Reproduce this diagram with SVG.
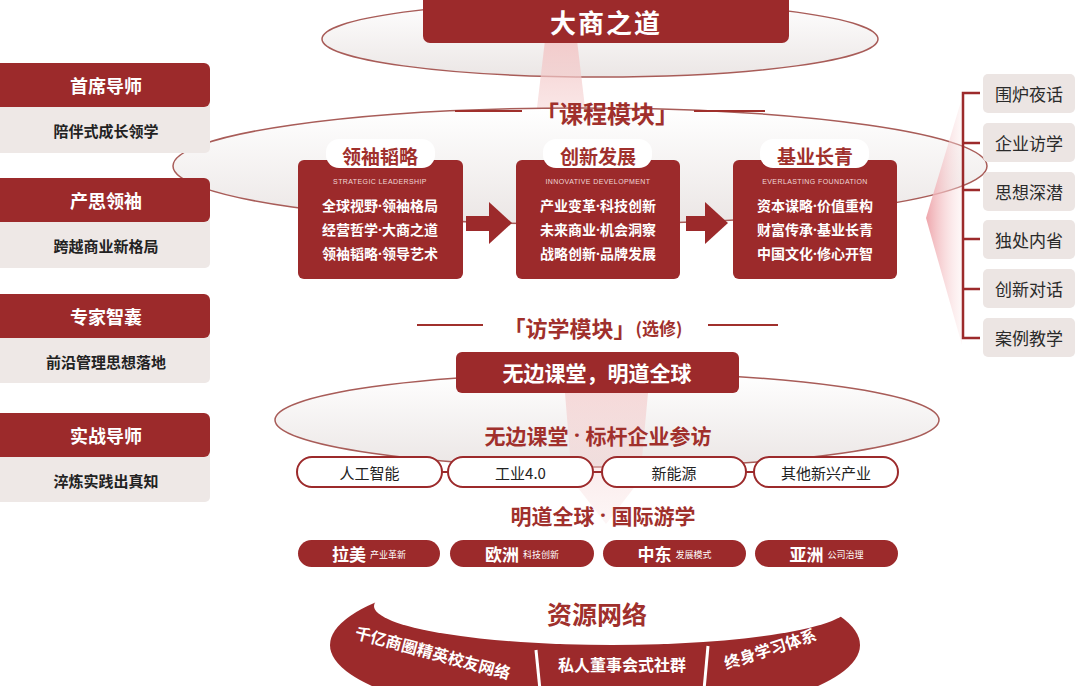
<svg xmlns="http://www.w3.org/2000/svg" width="1080" height="686" viewBox="0 0 1080 686">
<defs>
<linearGradient id="ellFill" x1="0" y1="0" x2="0" y2="1">
<stop offset="0" stop-color="#ffffff"/>
<stop offset="1" stop-color="#ebe6e5"/>
</linearGradient>
<linearGradient id="beam" x1="0" y1="0" x2="0" y2="1">
<stop offset="0" stop-color="#f2c4c4" stop-opacity="0.85"/>
<stop offset="1" stop-color="#f7d9d9" stop-opacity="0.35"/>
</linearGradient>
<linearGradient id="cone" x1="0" y1="0" x2="1" y2="0">
<stop offset="0" stop-color="#eea6ac"/>
<stop offset="1" stop-color="#fbe6e6" stop-opacity="0.3"/>
</linearGradient>
<style>
.red{fill:#9c2a2b}
.sub{fill:#eee8e6}
.ell{fill:url(#ellFill);stroke:#a85c58;stroke-width:1.5}
.t{font-family:"Noto Sans CJK SC","Noto Sans",sans-serif;text-anchor:middle;dominant-baseline:central}
.w{fill:#ffffff;font-weight:700}
.k{fill:#222222;font-weight:700}
.rt{fill:#a0302c;font-weight:700}
.dot{font-family:"Noto Sans","DejaVu Sans",sans-serif}
.en{font-family:"Liberation Sans",Arial,sans-serif;font-size:7px;fill:#f1d6d6;text-anchor:middle;dominant-baseline:central;letter-spacing:0.4px}
.ln{stroke:#a0302c;stroke-width:2;fill:none}
.pill{fill:#ffffff;stroke:#9c2a2b;stroke-width:2}
.rbox{fill:#ece5e3}
</style>
</defs>
<rect width="1080" height="686" fill="#ffffff"/>

<!-- decorative background -->
<g id="decor">
<ellipse class="ell" cx="600" cy="39" rx="278" ry="38"/>
<polygon points="545,40 577,40 590,150 532,150" fill="url(#beam)"/>
<ellipse class="ell" cx="580" cy="166" rx="407" ry="58"/>
<polygon points="926,218 962,98 962,345" fill="url(#cone)"/>
<ellipse class="ell" cx="607" cy="420" rx="332" ry="47"/>
<polygon points="565,393 648,393 640,480 606,524 572,480" fill="url(#beam)" opacity="0.7"/>
</g>

<!-- title -->
<g id="title">
<rect class="red" x="423" y="-10" width="366" height="53" rx="7"/>
<text class="t w" x="606" y="21" font-size="26" letter-spacing="2">大商之道</text>
</g>

<!-- section heading 1 -->
<g id="heading-course">
<line class="ln" x1="455" y1="111" x2="522" y2="111"/>
<line class="ln" x1="694" y1="111" x2="765" y2="111"/>
<text class="t rt" x="607" y="112" font-size="24">「课程模块」</text>
</g>

<!-- left column -->
<g id="left-1">
<rect class="sub" x="-10" y="100" width="220" height="53" rx="5"/>
<rect class="red" x="-10" y="63" width="220" height="44" rx="6"/>
<text class="t w" x="106" y="85" font-size="18">首席导师</text>
<text class="t k" x="106" y="130" font-size="15">陪伴式成长领学</text>
</g>
<g id="left-2">
<rect class="sub" x="-10" y="215" width="220" height="53" rx="5"/>
<rect class="red" x="-10" y="178" width="220" height="44" rx="6"/>
<text class="t w" x="106" y="200" font-size="18">产思领袖</text>
<text class="t k" x="106" y="245" font-size="15">跨越商业新格局</text>
</g>
<g id="left-3">
<rect class="sub" x="-10" y="331" width="220" height="52" rx="5"/>
<rect class="red" x="-10" y="294" width="220" height="44" rx="6"/>
<text class="t w" x="106" y="316" font-size="18">专家智囊</text>
<text class="t k" x="106" y="361" font-size="15">前沿管理思想落地</text>
</g>
<g id="left-4">
<rect class="sub" x="-10" y="450" width="220" height="52" rx="5"/>
<rect class="red" x="-10" y="413" width="220" height="44" rx="6"/>
<text class="t w" x="106" y="435" font-size="18">实战导师</text>
<text class="t k" x="106" y="480" font-size="15">淬炼实践出真知</text>
</g>

<!-- connectors -->
<g id="connectors">
<rect class="red" x="466" y="216" width="26" height="15"/>
<polygon class="red" points="489,202 512,223 489,244"/>
<rect class="red" x="686" y="216" width="22" height="15"/>
<polygon class="red" points="705,202 728,223 705,244"/>
<path d="M980,93 H963 V338 H980 M963,143 H980 M963,190 H980 M963,239 H980 M963,289 H980" fill="none" stroke="#9c2a2b" stroke-width="2.5"/>
<path d="M442,472 H448 M593,472 H602 M746,472 H754" stroke="#9c2a2b" stroke-width="2"/>
<line class="ln" x1="417" y1="325" x2="483" y2="325"/>
<line class="ln" x1="708" y1="325" x2="778" y2="325"/>
</g>

<!-- module cards -->
<g id="card-1">
<rect class="red" x="298" y="160" width="165" height="119" rx="6"/>
<rect x="326" y="139" width="109" height="29" rx="13" fill="#ffffff"/>
<text class="t rt" x="380" y="155" font-size="19">领袖韬略</text>
<text class="en" x="380" y="181">STRATEGIC LEADERSHIP</text>
<text class="t w" x="380" y="205" font-size="14">全球视野<tspan class="dot">·</tspan>领袖格局</text>
<text class="t w" x="380" y="229" font-size="14">经营哲学<tspan class="dot">·</tspan>大商之道</text>
<text class="t w" x="380" y="253" font-size="14">领袖韬略<tspan class="dot">·</tspan>领导艺术</text>
</g>
<g id="card-2">
<rect class="red" x="516" y="160" width="164" height="119" rx="6"/>
<rect x="543" y="139" width="109" height="29" rx="13" fill="#ffffff"/>
<text class="t rt" x="598" y="155" font-size="19">创新发展</text>
<text class="en" x="598" y="181">INNOVATIVE DEVELOPMENT</text>
<text class="t w" x="598" y="205" font-size="14">产业变革<tspan class="dot">·</tspan>科技创新</text>
<text class="t w" x="598" y="229" font-size="14">未来商业<tspan class="dot">·</tspan>机会洞察</text>
<text class="t w" x="598" y="253" font-size="14">战略创新<tspan class="dot">·</tspan>品牌发展</text>
</g>
<g id="card-3">
<rect class="red" x="733" y="160" width="164" height="119" rx="6"/>
<rect x="760" y="139" width="109" height="29" rx="13" fill="#ffffff"/>
<text class="t rt" x="815" y="155" font-size="19">基业长青</text>
<text class="en" x="815" y="181">EVERLASTING FOUNDATION</text>
<text class="t w" x="815" y="205" font-size="14">资本谋略<tspan class="dot">·</tspan>价值重构</text>
<text class="t w" x="815" y="229" font-size="14">财富传承<tspan class="dot">·</tspan>基业长青</text>
<text class="t w" x="815" y="253" font-size="14">中国文化<tspan class="dot">·</tspan>修心开智</text>
</g>

<!-- right column -->
<g id="right-1"><rect class="rbox" x="983" y="74" width="92" height="39" rx="5"/><text class="t" x="1029" y="93.5" font-size="17" fill="#2a2a2a">围炉夜话</text></g>
<g id="right-2"><rect class="rbox" x="983" y="123" width="92" height="39" rx="5"/><text class="t" x="1029" y="142.5" font-size="17" fill="#2a2a2a">企业访学</text></g>
<g id="right-3"><rect class="rbox" x="983" y="172" width="92" height="39" rx="5"/><text class="t" x="1029" y="191.5" font-size="17" fill="#2a2a2a">思想深潜</text></g>
<g id="right-4"><rect class="rbox" x="983" y="220" width="92" height="39" rx="5"/><text class="t" x="1029" y="239.5" font-size="17" fill="#2a2a2a">独处内省</text></g>
<g id="right-5"><rect class="rbox" x="983" y="269" width="92" height="39" rx="5"/><text class="t" x="1029" y="288.5" font-size="17" fill="#2a2a2a">创新对话</text></g>
<g id="right-6"><rect class="rbox" x="983" y="318" width="92" height="39" rx="5"/><text class="t" x="1029" y="337.5" font-size="17" fill="#2a2a2a">案例教学</text></g>

<!-- visit module -->
<g id="heading-visit">
<text class="t rt" x="593" y="327" font-size="22">「访学模块」<tspan font-size="17">(选修)</tspan></text>
</g>
<g id="visit-banner">
<rect class="red" x="456" y="352" width="283" height="41" rx="6"/>
<text class="t w" x="597" y="372" font-size="21">无边课堂，明道全球</text>
</g>
<g id="benchmark">
<text class="t rt" x="598" y="435" font-size="21">无边课堂<tspan class="dot" xml:space="preserve"> · </tspan>标杆企业参访</text>
</g>
<g id="pill-ai"><rect class="pill" x="297" y="457" width="145" height="30" rx="15"/><text class="t" x="369.5" y="472" font-size="15" fill="#222">人工智能</text></g>
<g id="pill-ind"><rect class="pill" x="448" y="457" width="145" height="30" rx="15"/><text class="t" x="520.5" y="472" font-size="15" fill="#222">工业4.0</text></g>
<g id="pill-ne"><rect class="pill" x="602" y="457" width="144" height="30" rx="15"/><text class="t" x="674" y="472" font-size="15" fill="#222">新能源</text></g>
<g id="pill-oth"><rect class="pill" x="754" y="457" width="144" height="30" rx="15"/><text class="t" x="826" y="472" font-size="15" fill="#222">其他新兴产业</text></g>

<g id="global">
<text class="t rt" x="603" y="515" font-size="21">明道全球<tspan class="dot" xml:space="preserve"> · </tspan>国际游学</text>
</g>
<g id="reg-la"><rect class="red" x="298" y="540" width="142" height="27" rx="13.5"/><text class="t w" x="369" y="553.5" font-size="17">拉美 <tspan font-size="9" font-weight="400">产业革新</tspan></text></g>
<g id="reg-eu"><rect class="red" x="450" y="540" width="144" height="27" rx="13.5"/><text class="t w" x="522" y="553.5" font-size="17">欧洲 <tspan font-size="9" font-weight="400">科技创新</tspan></text></g>
<g id="reg-me"><rect class="red" x="603" y="540" width="143" height="27" rx="13.5"/><text class="t w" x="674.5" y="553.5" font-size="17">中东 <tspan font-size="9" font-weight="400">发展模式</tspan></text></g>
<g id="reg-as"><rect class="red" x="755" y="540" width="143" height="27" rx="13.5"/><text class="t w" x="826.5" y="553.5" font-size="17">亚洲 <tspan font-size="9" font-weight="400">公司治理</tspan></text></g>

<!-- resource network -->
<g id="resource">
<ellipse class="red" cx="595" cy="645" rx="265" ry="76"/>
<ellipse cx="612" cy="606" rx="238" ry="39" fill="#ffffff"/>
<line x1="536" y1="650" x2="540" y2="690" stroke="#ffffff" stroke-width="3"/>
<line x1="708" y1="646" x2="704" y2="690" stroke="#ffffff" stroke-width="3"/>
<text class="t rt" x="597" y="613" font-size="25">资源网络</text>
<text class="t w" x="433" y="652" font-size="16" transform="rotate(15 433 652)">千亿商圈精英校友网络</text>
<text class="t w" x="622" y="664" font-size="16">私人董事会式社群</text>
<text class="t w" x="770" y="648" font-size="16" transform="rotate(-18 770 648)">终身学习体系</text>
</g>
</svg>
